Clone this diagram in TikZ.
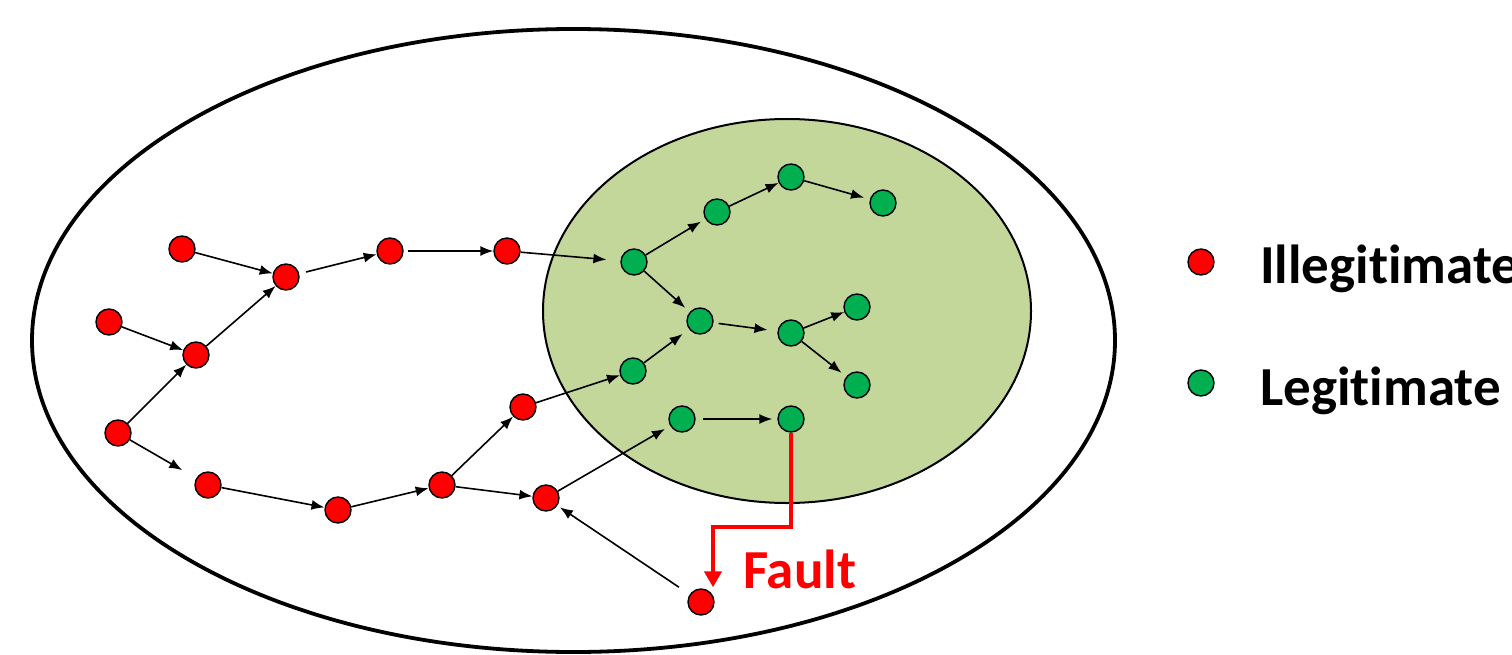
\documentclass[tikz,border=0pt]{standalone}
\usepackage{fontspec}
\setmainfont[Ligatures=NoCommon]{Carlito}
\usetikzlibrary{arrows.meta,calc}
\definecolor{lgreen}{RGB}{196,215,155}
\definecolor{dgreen}{RGB}{0,176,80}
\definecolor{fred}{RGB}{255,0,0}
\begin{document}
\begin{tikzpicture}[x=1pt,y=-1pt,
  dot/.style={circle,draw=black,line width=1.4pt,minimum size=26pt,inner sep=0pt},
  rdot/.style={dot,fill=fred},
  gdot/.style={dot,fill=dgreen},
  conn/.style={-{Latex[length=13pt,width=10pt]},line width=1.6pt},
  fault/.style={-{Triangle[length=16pt,width=17pt]},draw=fred,line width=4.5pt},
  lbl/.style={font=\bfseries\fontsize{55}{62}\selectfont,inner sep=0pt,anchor=base west}]
\useasboundingbox (0,0) rectangle (1512,655);
\fill[white] (0,0) rectangle (1512,655);
% ellipses
\draw[line width=3.8pt] (573.5,340.5) ellipse [x radius=541.5,y radius=311.5];
\draw[fill=lgreen,line width=2pt] (787,311) ellipse [x radius=244,y radius=192];
% red nodes
\node[rdot] (R1) at (182,249) {};
\node[rdot] (R2) at (286,277) {};
\node[rdot] (R3) at (390,251) {};
\node[rdot] (R4) at (507,251) {};
\node[rdot] (R5) at (109,322) {};
\node[rdot] (R6) at (196,355) {};
\node[rdot] (R7) at (118,433) {};
\node[rdot] (R8) at (208,485) {};
\node[rdot] (R9) at (338,510) {};
\node[rdot] (R10) at (442,485) {};
\node[rdot] (R11) at (523,407) {};
\node[rdot] (R12) at (546,498) {};
\node[rdot] (R13) at (701,602) {};
% green nodes
\node[gdot] (G1) at (634,262) {};
\node[gdot] (G2) at (717,212) {};
\node[gdot] (G3) at (791,177) {};
\node[gdot] (G4) at (883,203) {};
\node[gdot] (G5) at (700,321) {};
\node[gdot] (G6) at (791,333) {};
\node[gdot] (G7) at (857,307) {};
\node[gdot] (G8) at (857,385) {};
\node[gdot] (G9) at (633,371) {};
\node[gdot] (G10) at (682,419) {};
\node[gdot] (G11) at (791,419) {};
% connectors
\draw[conn] (R1) -- (R2);
\draw[conn,shorten <=7pt] (R2) -- (R3);
\draw[conn,shorten <=4pt] (R3) -- (R4);
\draw[conn,shorten >=14pt] (R4) -- (G1);
\draw[conn] (R5) -- (R6);
\draw[conn] (R6) -- (R2);
\draw[conn] (R7) -- (R6);
\draw[conn,shorten >=16pt] (R7) -- (R8);
\draw[conn] (R8) -- (R9);
\draw[conn] (R9) -- (R10);
\draw[conn] (R10) -- (R11);
\draw[conn] (R10) -- (R12);
\draw[conn] (R11) -- (G9);
\draw[conn,shorten >=6pt] (R12) -- (G10);
\draw[conn,shorten <=13pt,shorten >=3pt] (R13) -- (R12);
\draw[conn,shorten >=5pt] (G1) -- (G2);
\draw[conn] (G2) -- (G3);
\draw[conn,shorten >=6pt] (G3) -- (G4);
\draw[conn,shorten >=6pt] (G1) -- (G5);
\draw[conn,shorten >=8pt] (G9) -- (G5);
\draw[conn,shorten <=5pt,shorten >=10pt] (G5) -- (G6);
\draw[conn] (G6) -- (G7);
\draw[conn,shorten >=6pt] (G6) -- (G8);
\draw[conn,shorten <=7pt,shorten >=5pt] (G10) -- (G11);
% fault
\coordinate (fturn) at (713,527);
\coordinate (ftip) at ($(R13.north)+(12,-1)$);
\draw[fault] (G11.south) |- (fturn) -- (ftip);
\node[lbl,text=fred] (flt) at (743,588) {Fault};
% legend
\node[rdot] (LR) at (1201,262) {};
\node[gdot] (LG) at (1201,383) {};
\node[lbl] (LRt) at (1260,283) {Illegitimate};
\node[lbl] (LGt) at (1260,405) {Legitimate};
\end{tikzpicture}
\end{document}
